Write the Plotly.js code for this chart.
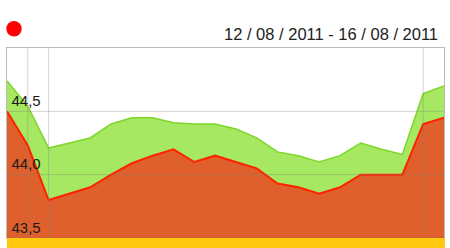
<!DOCTYPE html>
<html>
<head>
<meta charset="utf-8">
<script src="https://cdn.plot.ly/plotly-3.0.1.min.js"></script>
<style>html,body{margin:0;padding:0;background:#fff;}#chart{width:450px;height:248px;}</style>
</head>
<body>
<div id="chart"></div>
<script>
var steps = [0,1,2,3,4,5,6,7,8,9,10,11,12,13,14,15,16,17,18,19,20,21];
var upperValues = [44.74,44.54,44.21,44.25,44.29,44.40,44.45,44.45,44.41,44.40,44.40,44.36,44.29,44.18,44.15,44.10,44.15,44.25,44.20,44.16,44.64,44.70];
var lowerValues = [44.50,44.23,43.80,43.85,43.90,44.00,44.09,44.15,44.20,44.10,44.15,44.10,44.05,43.93,43.90,43.85,43.90,44.00,44.00,44.00,44.40,44.45];
var yTicks = [43.5,44.0,44.5];
var xGrid = [1,2,20];
var titleText = "12 / 08 / 2011 - 16 / 08 / 2011";

var traces = [
  {x: steps, y: upperValues, type: 'scatter', mode: 'lines', fill: 'tozeroy',
   fillcolor: '#A6E862', line: {color: '#7ED62A', width: 1.5}, hoverinfo: 'skip'},
  {x: steps, y: lowerValues, type: 'scatter', mode: 'lines', fill: 'tozeroy',
   fillcolor: '#DF602C', line: {color: '#FF2200', width: 2}, hoverinfo: 'skip'}
];

var shapes = [];
yTicks.forEach(function(v){
  shapes.push({type:'line', layer:'above', xref:'paper', x0:0, x1:1, yref:'y', y0:v, y1:v,
    line:{color:'rgba(130,130,130,0.35)', width:1}});
});
xGrid.forEach(function(v){
  shapes.push({type:'line', layer:'above', xref:'x', x0:v, x1:v, yref:'paper', y0:0, y1:1,
    line:{color:'rgba(130,130,130,0.35)', width:1}});
});
shapes.push({type:'rect', layer:'above', xref:'paper', yref:'paper', x0:0, x1:1.002, y0:0, y1:-0.06,
  fillcolor:'#FFC70E', line:{width:0}});
shapes.push({type:'circle', layer:'above', xref:'paper', yref:'paper', x0:-0.0016, x1:0.0336, y0:1.061, y1:1.142,
  fillcolor:'#FF0000', line:{width:0}});

var layout = {
  width: 450, height: 248,
  margin: {l: 7, r: 6, t: 48, b: 10, pad: 0},
  paper_bgcolor: '#ffffff', plot_bgcolor: '#ffffff',
  showlegend: false,
  separators: ',.',
  font: {family: 'Liberation Sans, Arial, sans-serif', color: '#222222'},
  xaxis: {range: [0, 21], showgrid: false, zeroline: false, showticklabels: false, ticks: '',
    showline: true, mirror: true, linecolor: '#BBBBBB', linewidth: 1, fixedrange: true},
  yaxis: {range: [43.5, 45.0], tickvals: yTicks, tickformat: '.1f', showgrid: false, zeroline: false,
    ticks: '', ticklabelposition: 'inside top', ticklabelstandoff: 4, tickfont: {size: 15, color: '#1a1a1a'},
    showline: true, mirror: true, linecolor: '#BBBBBB', linewidth: 1, fixedrange: true},
  shapes: shapes,
  annotations: [{xref:'paper', yref:'paper', x:0.991, y:1.074, xanchor:'right', yanchor:'middle',
    text: titleText, showarrow:false, font:{size:16.5, color:'#222222'}}]
};

Plotly.newPlot('chart', traces, layout, {displayModeBar: false, staticPlot: true});
</script>
</body>
</html>
